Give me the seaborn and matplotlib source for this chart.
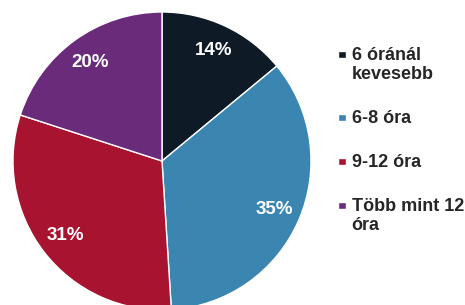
import numpy as np
import seaborn as sns
import matplotlib.pyplot as plt
import matplotlib.patches as mpatches
from matplotlib.legend_handler import HandlerPatch

# answer categories and shares (%)
categories = ["6 óránál\nkevesebb", "6-8 óra", "9-12 óra", "Több mint 12\nóra"]
shares = [14, 35, 31, 20]
colors = ["#0e1a25", "#3a86b0", "#a8132f", "#6b2b7b"]

sns.set_theme(style="white")
plt.rcParams["font.family"] = ["Liberation Sans", "DejaVu Sans"]


def small_square(legend, orig_handle, xdescent, ydescent, width, height, fontsize):
    s = 0.42 * fontsize
    return mpatches.Rectangle(
        (-xdescent + (width - s) / 2, -ydescent + (height - s) / 2 + 0.05 * fontsize), s, s
    )


fig = plt.figure(figsize=(4.65, 3.05), dpi=100)
ax = fig.add_axes([13 / 465, -5 / 305, 298 / 465, 298 / 305])

wedges, texts, autotexts = ax.pie(
    shares,
    colors=colors,
    startangle=90,
    counterclock=False,
    radius=1,
    autopct="%d%%",
    pctdistance=0.82,
    wedgeprops={"edgecolor": "white", "linewidth": 1},
    textprops={"color": "white", "fontsize": 13.5, "fontweight": "bold"},
)
ax.set_xlim(-1, 1)
ax.set_ylim(-1, 1)
ax.set_aspect("equal")
ax.axis("off")

leg = fig.legend(
    wedges,
    categories,
    loc="upper left",
    bbox_to_anchor=(330 / 465, 1 - 40 / 305),
    frameon=False,
    prop={"size": 13, "weight": "bold"},
    handlelength=0.5,
    handleheight=1.0,
    handletextpad=0.3,
    labelspacing=1.5,
    borderaxespad=0,
    handler_map={mpatches.Wedge: HandlerPatch(patch_func=small_square)},
)
for t in leg.get_texts():
    t.set_linespacing(1.15)
# put the marker next to the first line of two-line labels
for col in leg._legend_handle_box.get_children():
    for row in col.get_children():
        row.align = "top"

fig.savefig("out.png", dpi=100)
